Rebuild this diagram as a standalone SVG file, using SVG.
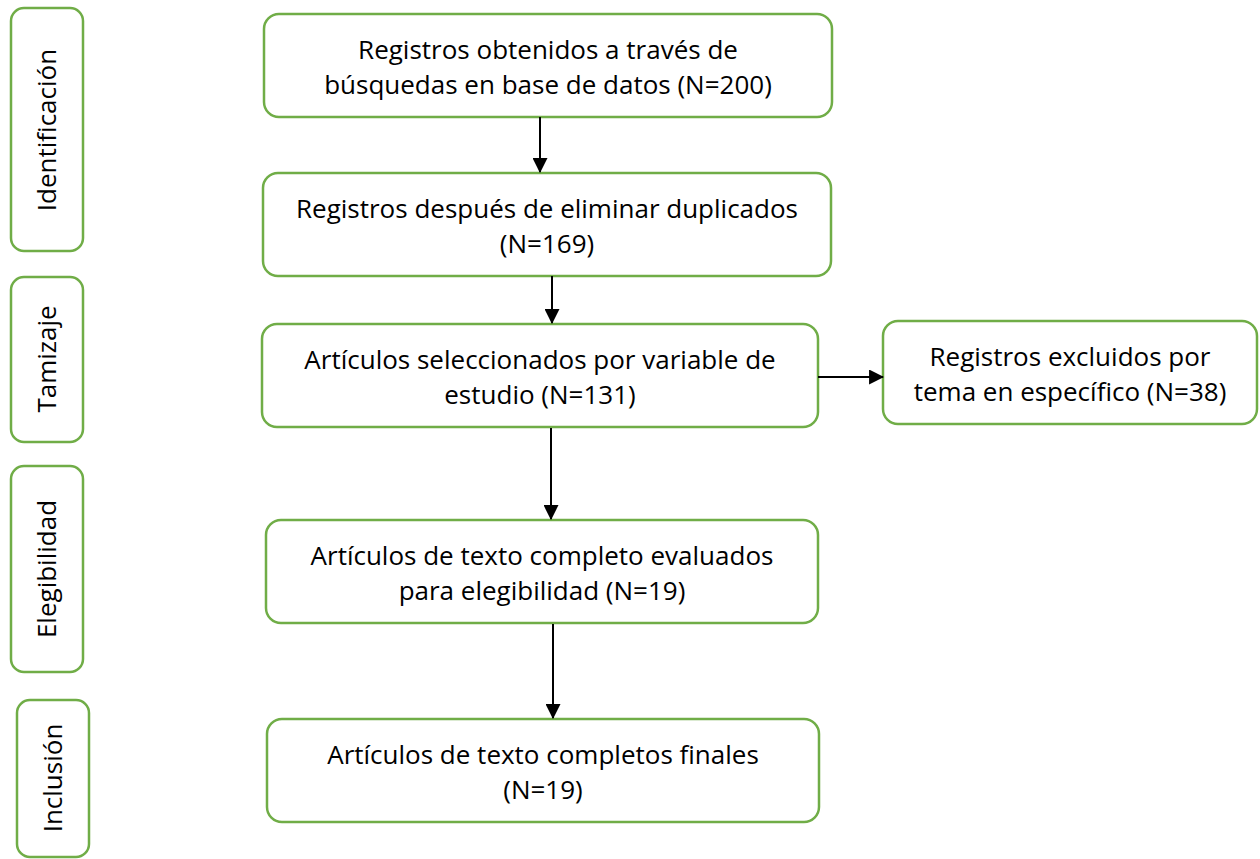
<svg xmlns="http://www.w3.org/2000/svg" width="1260" height="859" viewBox="0 0 1260 859">
<defs>
<style>
.box{fill:#fff;stroke:#70AD47;stroke-width:2.5}
.t{font-family:"Open Sans","Liberation Sans",sans-serif;font-size:26px;fill:#000;text-anchor:middle}
.c{stroke:#000;stroke-width:2;fill:none;marker-end:url(#ah)}
</style>
<marker id="ah" viewBox="0 0 14 14" refX="13" refY="7" markerWidth="15" markerHeight="15" markerUnits="userSpaceOnUse" orient="auto">
<path d="M0,0 L14,7 L0,14 Z" fill="#000"/>
</marker>
</defs>
<rect width="1260" height="859" fill="#fff"/>
<g id="lbl-identificacion"><rect class="box" x="11" y="8" width="72" height="243" rx="13"/><text class="t" transform="translate(56,130) rotate(-90)">Identificación</text></g>
<g id="lbl-tamizaje"><rect class="box" x="11" y="277" width="72" height="165" rx="13"/><text class="t" transform="translate(56,359) rotate(-90)">Tamizaje</text></g>
<g id="lbl-elegibilidad"><rect class="box" x="11" y="466" width="72" height="206" rx="13"/><text class="t" transform="translate(56,569) rotate(-90)">Elegibilidad</text></g>
<g id="lbl-inclusion"><rect class="box" x="17" y="700" width="72" height="157" rx="13"/><text class="t" transform="translate(62,778) rotate(-90)">Inclusión</text></g>
<g id="n1"><rect class="box" x="264" y="14" width="568" height="103" rx="15"/><text class="t" x="548" y="59">Registros obtenidos a través de</text><text class="t" x="548" y="94">búsquedas en base de datos (N=200)</text></g>
<g id="n2"><rect class="box" x="263" y="173" width="568" height="103" rx="15"/><text class="t" x="547" y="218">Registros después de eliminar duplicados</text><text class="t" x="547" y="253">(N=169)</text></g>
<g id="n3"><rect class="box" x="262" y="324" width="556" height="103" rx="15"/><text class="t" x="540" y="369">Artículos seleccionados por variable de</text><text class="t" x="540" y="404">estudio (N=131)</text></g>
<g id="n4"><rect class="box" x="883" y="321" width="374" height="103" rx="15"/><text class="t" x="1070" y="366">Registros excluidos por</text><text class="t" x="1070" y="401">tema en específico (N=38)</text></g>
<g id="n5"><rect class="box" x="266" y="520" width="552" height="103" rx="15"/><text class="t" x="542" y="565">Artículos de texto completo evaluados</text><text class="t" x="542" y="600">para elegibilidad (N=19)</text></g>
<g id="n6"><rect class="box" x="267" y="719" width="552" height="103" rx="15"/><text class="t" x="543" y="764">Artículos de texto completos finales</text><text class="t" x="543" y="799">(N=19)</text></g>
<g id="connectors">
<line class="c" x1="540" y1="117" x2="540" y2="172"/>
<line class="c" x1="552" y1="276" x2="552" y2="323"/>
<line class="c" x1="818" y1="377" x2="883" y2="377"/>
<line class="c" x1="551" y1="428" x2="551" y2="519"/>
<line class="c" x1="553" y1="624" x2="553" y2="718"/>
</g>
</svg>
